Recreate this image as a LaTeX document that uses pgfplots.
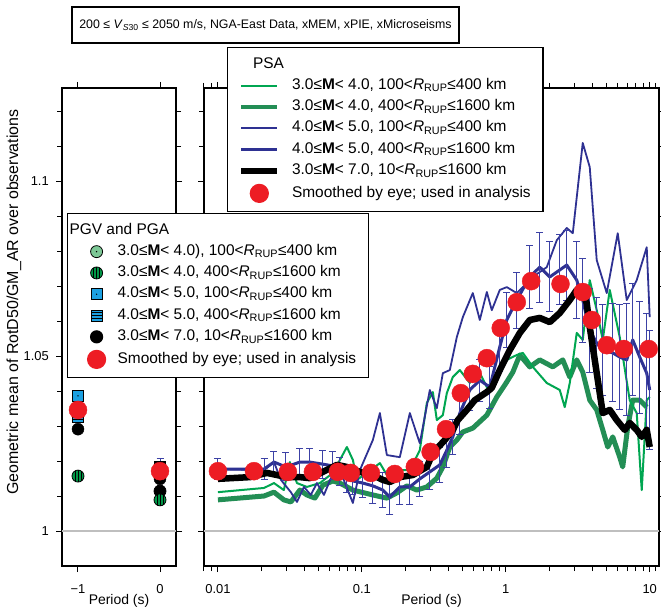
\documentclass[border=0pt]{standalone}
\usepackage{fontspec}
\setmainfont{Liberation Sans}
\usepackage{pgfplots}
\pgfplotsset{compat=1.18}

\definecolor{tgreen}{RGB}{0,166,81}
\definecolor{dgreen}{RGB}{35,142,85}
\definecolor{tblue}{RGB}{46,49,146}
\definecolor{dblue}{RGB}{46,49,146}
\definecolor{eblue}{RGB}{60,65,165}
\definecolor{redd}{RGB}{237,28,36}
\definecolor{lgreen}{RGB}{125,200,150}
\definecolor{sgreen}{RGB}{0,150,70}
\definecolor{sqblue}{RGB}{28,160,225}

% marks of the PGV/PGA panel
\pgfdeclareplotmark{dotcirc}{%
  \pgfpathcircle{\pgfpointorigin}{\pgfplotmarksize}%
  \pgfusepathqfillstroke
  \pgfsetfillcolor{black}%
  \pgfpathcircle{\pgfpointorigin}{0.13\pgfplotmarksize}%
  \pgfusepathqfill}
\pgfdeclareplotmark{vstripcirc}{%
  \pgfpathcircle{\pgfpointorigin}{\pgfplotmarksize}%
  \pgfusepathqfillstroke
  \pgfpathmoveto{\pgfqpoint{-0.5\pgfplotmarksize}{-0.866\pgfplotmarksize}}%
  \pgfpathlineto{\pgfqpoint{-0.5\pgfplotmarksize}{0.866\pgfplotmarksize}}%
  \pgfpathmoveto{\pgfqpoint{0pt}{-\pgfplotmarksize}}%
  \pgfpathlineto{\pgfqpoint{0pt}{\pgfplotmarksize}}%
  \pgfpathmoveto{\pgfqpoint{0.5\pgfplotmarksize}{-0.866\pgfplotmarksize}}%
  \pgfpathlineto{\pgfqpoint{0.5\pgfplotmarksize}{0.866\pgfplotmarksize}}%
  \pgfusepathqstroke}
\pgfdeclareplotmark{dotsq}{%
  \pgfpathrectanglecorners{\pgfqpoint{-\pgfplotmarksize}{-\pgfplotmarksize}}{\pgfqpoint{\pgfplotmarksize}{\pgfplotmarksize}}%
  \pgfusepathqfillstroke
  \pgfsetfillcolor{black}%
  \pgfpathcircle{\pgfpointorigin}{0.14\pgfplotmarksize}%
  \pgfusepathqfill}
\pgfdeclareplotmark{hstripsq}{%
  \pgfpathrectanglecorners{\pgfqpoint{-\pgfplotmarksize}{-\pgfplotmarksize}}{\pgfqpoint{\pgfplotmarksize}{\pgfplotmarksize}}%
  \pgfusepathqfillstroke
  \pgfpathmoveto{\pgfqpoint{-\pgfplotmarksize}{-0.5\pgfplotmarksize}}%
  \pgfpathlineto{\pgfqpoint{\pgfplotmarksize}{-0.5\pgfplotmarksize}}%
  \pgfpathmoveto{\pgfqpoint{-\pgfplotmarksize}{0pt}}%
  \pgfpathlineto{\pgfqpoint{\pgfplotmarksize}{0pt}}%
  \pgfpathmoveto{\pgfqpoint{-\pgfplotmarksize}{0.5\pgfplotmarksize}}%
  \pgfpathlineto{\pgfqpoint{\pgfplotmarksize}{0.5\pgfplotmarksize}}%
  \pgfusepathqstroke}

\newcommand{\R}{\textit{R}\textsubscript{RUP}}
\newcommand{\M}{\textbf{M}}
\newcommand{\LE}[1]{\makebox[240bp][l]{#1}}

\pgfplotsset{
  panel/.style={
    scale only axis, anchor=south west, height=478bp,
    ymin=0.99, ymax=1.1266,
    ytick={1,1.05,1.1},
    minor ytick={1.01,1.02,1.03,1.04,1.06,1.07,1.08,1.09,1.11,1.12},
    axis line style={line width=1.2bp},
    tick style={line width=1bp, black},
    tick align=outside, major tick length=6bp, minor tick length=5bp,
    ticklabel style={font=\fontsize{13}{15}\selectfont},
    xticklabel style={anchor=center, yshift=-17bp},
    yticklabel style={anchor=east, inner sep=0pt, xshift=-7bp},
    x label style={at={(axis description cs:0.5,0)}, anchor=center, yshift=-35bp, font=\fontsize{14}{16}\selectfont},
    legend cell align=left,
  },
  leg/.style={
    anchor=north west, draw=black, line width=1.2bp, fill=white,
    inner xsep=11bp, inner ysep=9bp, row sep=5.8bp, column sep=12bp,
    font=\fontsize{15.5}{19}\selectfont,
    nodes={inner sep=0pt, text height=11.5bp, text depth=4bp},
  },
  longleg/.style={legend image code/.code={\draw[##1] (0bp,0bp) -- (36bp,0bp);}},
  dotleg/.style={legend image code/.code={\draw[mark repeat=2,mark phase=2,##1] plot coordinates {(0bp,0bp) (18bp,0bp) (36bp,0bp)};}},
  ebars/.style={error bars/.cd, y dir=both, y explicit,
    error bar style={line width=1bp, eblue},
    error mark options={rotate=90, line width=1bp, mark size=3.5bp, eblue}},
}

\begin{document}
\begin{tikzpicture}
\path[use as bounding box] (0,0) rectangle (661bp,612bp);
\node[draw, line width=1.2bp, minimum width=387bp, minimum height=36bp, inner sep=0pt,
  font=\fontsize{12.4}{14}\selectfont] at (265.5bp,587bp)
  {200 ≤ \textit{V}\textsubscript{\textit{S}30} ≤ 2050 m/s, NGA-East Data, xMEM, xPIE, xMicroseisms};

% ---------------- PSA panel ----------------
\begin{axis}[panel, at={(204bp,46bp)}, width=455bp,
  xmode=log, xmin=0.008, xmax=11.6,
  xtick={0.01,0.1,1,10}, xticklabels={0.01,0.1,1,10},
  minor xtick={0.008,0.009,0.02,0.03,0.04,0.05,0.06,0.07,0.08,0.09,0.2,0.3,0.4,0.5,0.6,0.7,0.8,0.9,2,3,4,5,6,7,8,9,11},
  yticklabels={,,},
  xlabel={Period (s)},
  legend style={leg, at={(0.0505,1.0858)}},
]
\addlegendimage{empty legend}
\addlegendentry{\hspace*{-48bp}PSA}
\addlegendimage{longleg, tgreen, line width=2bp}
\addlegendentry{\LE{3.0≤\M< 4.0, 100<\R≤400 km}}
\addlegendimage{longleg, dgreen, line width=4.5bp}
\addlegendentry{\LE{3.0≤\M< 4.0, 400<\R≤1600 km}}
\addlegendimage{longleg, tblue, line width=1.8bp}
\addlegendentry{\LE{4.0≤\M< 5.0, 100<\R≤400 km}}
\addlegendimage{longleg, dblue, line width=3.3bp}
\addlegendentry{\LE{4.0≤\M< 5.0, 400<\R≤1600 km}}
\addlegendimage{longleg, black, line width=5.5bp}
\addlegendentry{\LE{3.0≤\M< 7.0, 10<\R≤1600 km}}
\addlegendimage{dotleg, only marks, mark=*, mark size=9bp, mark options={fill=redd, draw=redd}}
\addlegendentry{\LE{Smoothed by eye; used in analysis}}

\addplot[forget plot, black!25, line width=1.5bp] coordinates {(0.008,1) (11.6,1)};

% thick green: 3.0<=M<4.0, 400<R<=1600
\addplot[forget plot, dgreen, line width=5bp, line join=round] table {
0.0100 1.0089
0.0209 1.0100
0.0245 1.0111
0.0287 1.0089
0.0321 1.0083
0.0371 1.0117
0.0415 1.0103
0.0472 1.0094
0.0536 1.0131
0.0629 1.0143
0.0703 1.0137
0.0866 1.0117
0.1192 1.0103
0.1492 1.0094
0.1751 1.0109
0.2054 1.0129
0.2409 1.0117
0.2828 1.0126
0.3318 1.0151
0.3652 1.0183
0.4084 1.0240
0.4567 1.0260
0.5027 1.0283
0.5899 1.0294
0.7383 1.0331
0.8660 1.0383
1.016 1.0426
1.119 1.0454
1.251 1.0503
1.468 1.0469
1.722 1.0489
2.121 1.0469
2.488 1.0489
2.783 1.0440
3.112 1.0489
3.425 1.0454
3.831 1.0374
4.284 1.0346
4.717 1.0289
5.109 1.0240
5.534 1.0269
6.190 1.0211
6.494 1.0183
7.033 1.0297
7.619 1.0374
8.522 1.0374
9.533 1.0354
};

% thin green: 3.0<=M<4.0, 100<R<=400
\addplot[forget plot, tgreen, line width=2bp, line join=round] table {
0.0100 1.0111
0.0209 1.0123
0.0245 1.0137
0.0287 1.0117
0.0316 1.0197
0.0354 1.0137
0.0415 1.0126
0.0511 1.0137
0.0629 1.0166
0.0787 1.0240
0.0866 1.0203
0.0923 1.0146
0.1083 1.0166
0.1334 1.0194
0.1564 1.0146
0.1835 1.0174
0.2154 1.0174
0.2527 1.0231
0.2828 1.0366
0.3112 1.0397
0.3318 1.0317
0.3652 1.0331
0.3893 1.0394
0.4284 1.0440
0.4792 1.0460
0.5623 1.0423
0.6289 1.0469
0.7383 1.0411
0.8660 1.0440
1.016 1.0489
1.192 1.0503
1.313 1.0509
1.540 1.0469
1.926 1.0423
2.371 1.0403
2.568 1.0354
2.783 1.0423
3.112 1.0566
3.425 1.0546
3.831 1.0717
4.284 1.0631
4.717 1.0546
5.275 1.0689
6.190 1.0554
7.263 1.0374
8.122 1.0337
8.801 1.0117
9.533 1.0374
10.0 1.0383
};

% thin blue: 4.0<=M<5.0, 100<R<=400
\addplot[forget plot, tblue, line width=1.8bp, line join=round] table {
0.0100 1.0177
0.0209 1.0174
0.0245 1.0197
0.0274 1.0146
0.0321 1.0111
0.0354 1.0083
0.0396 1.0126
0.0442 1.0103
0.0487 1.0137
0.0545 1.0103
0.0609 1.0151
0.0703 1.0174
0.0866 1.0080
0.0969 1.0174
0.1192 1.0260
0.1334 1.0337
0.1492 1.0217
0.1835 1.0211
0.2154 1.0337
0.2527 1.0251
0.2966 1.0403
0.3318 1.0351
0.3652 1.0451
0.4084 1.0460
0.4567 1.0554
0.5027 1.0611
0.5899 1.0680
0.6598 1.0603
0.7383 1.0683
0.7995 1.0631
0.9085 1.0689
1.016 1.0697
1.192 1.0680
1.540 1.0726
1.926 1.0754
2.261 1.0831
2.652 1.0866
2.920 1.0851
3.425 1.1109
3.831 1.1040
4.284 1.0774
5.027 1.0680
5.995 1.0851
6.923 1.0660
8.122 1.0717
9.533 1.0811
10.0 1.0611
};

% thick blue with error bars: 4.0<=M<5.0, 400<R<=1600
\addplot[forget plot, dblue, line width=3bp, line join=round, ebars]
  table[x index=0, y index=1, y error index=2] {
0.0100 1.0177 0.003
0.0209 1.0177 0.003
0.0245 1.0197 0.003
0.0297 1.0183 0.004
0.0371 1.0197 0.004
0.0435 1.0197 0.004
0.0536 1.0191 0.004
0.0629 1.0186 0.004
0.0703 1.0169 0.004
0.0787 1.0149 0.004
0.0866 1.0143 0.004
0.1016 1.0137 0.004
0.1192 1.0129 0.005
0.1399 1.0117 0.005
0.1564 1.0097 0.005
0.1835 1.0126 0.005
0.2154 1.0126 0.005
0.2527 1.0149 0.005
0.2966 1.0169 0.005
0.3481 1.0189 0.005
0.3893 1.0231 0.005
0.4284 1.0269 0.005
0.4792 1.0337 0.006
0.5623 1.0403 0.006
0.6598 1.0431 0.006
0.7743 1.0411 0.006
0.9085 1.0526 0.007
1.016 1.0603 0.008
1.192 1.0660 0.008
1.468 1.0726 0.009
1.722 1.0754 0.010
2.021 1.0726 0.010
2.371 1.0746 0.010
2.652 1.0760 0.010
3.112 1.0717 0.011
3.425 1.0660 0.012
3.831 1.0574 0.012
4.284 1.0537 0.013
4.717 1.0517 0.013
5.534 1.0509 0.014
6.190 1.0497 0.015
6.923 1.0489 0.016
7.619 1.0546 0.016
8.522 1.0497 0.016
9.533 1.0451 0.017
10.0 1.0403 0.017
};

% black: 3.0<=M<7.0, 10<R<=1600
\addplot[forget plot, black, line width=6.5bp, line join=round] table {
0.0100 1.0149
0.0167 1.0154
0.0219 1.0166
0.0257 1.0160
0.0301 1.0154
0.0371 1.0154
0.0435 1.0151
0.0536 1.0169
0.0671 1.0189
0.0787 1.0183
0.0969 1.0169
0.1192 1.0160
0.1399 1.0146
0.1564 1.0140
0.1835 1.0154
0.2260 1.0160
0.2828 1.0183
0.3112 1.0223
0.3771 1.0260
0.4284 1.0289
0.4642 1.0317
0.5361 1.0346
0.6091 1.0374
0.7383 1.0397
0.7995 1.0409
0.9085 1.0460
1.066 1.0517
1.251 1.0566
1.468 1.0603
1.722 1.0609
2.021 1.0597
2.371 1.0623
2.783 1.0660
3.112 1.0689
3.425 1.0680
3.652 1.0651
3.831 1.0583
4.150 1.0489
4.496 1.0394
4.717 1.0337
5.275 1.0346
5.899 1.0317
6.706 1.0289
7.263 1.0309
8.122 1.0289
8.801 1.0269
9.533 1.0289
10.0 1.0240
};

% smoothed by eye
\addplot[forget plot, only marks, mark=*, mark size=9bp, mark options={fill=redd, draw=redd}] table {
0.0100 1.0171
0.0178 1.0171
0.0306 1.0169
0.0457 1.0169
0.0681 1.0169
0.0837 1.0166
0.1155 1.0166
0.1693 1.0163
0.2334 1.0183
0.3004 1.0226
0.3844 1.0291
0.4871 1.0394
0.5899 1.0449
0.7383 1.0494
0.9220 1.0580
1.192 1.0654
1.500 1.0714
2.400 1.0706
3.425 1.0683
3.960 1.0603
5.030 1.0531
6.600 1.0520
9.840 1.0520
};
\end{axis}

% ---------------- PGV and PGA panel ----------------
\begin{axis}[panel, at={(62bp,46bp)}, width=114bp,
  xmin=-1.195, xmax=0.195,
  xtick={-1,0}, xticklabels={−1,0},
  yticklabels={1,1.05,1.1},
  xlabel={Period (s)},
  ylabel={Geometric mean of RotD50/GM\_AR over observations},
  y label style={at={(axis description cs:-0.421,0.552)}, anchor=center, font=\fontsize{16}{18}\selectfont},
  legend style={leg, at={(0.0439,0.7385)}},
]
\addlegendimage{empty legend}
\addlegendentry{\hspace*{-48bp}PGV and PGA}
\addlegendimage{dotleg, only marks, mark=dotcirc, mark size=6bp, mark options={fill=lgreen, draw=black, line width=0.8bp}}
\addlegendentry{\LE{3.0≤\M< 4.0), 100<\R≤400 km}}
\addlegendimage{dotleg, only marks, mark=vstripcirc, mark size=6bp, mark options={fill=sgreen, draw=black, line width=0.8bp}}
\addlegendentry{\LE{3.0≤\M< 4.0, 400<\R≤1600 km}}
\addlegendimage{dotleg, only marks, mark=dotsq, mark size=5.5bp, mark options={fill=sqblue, draw=black, line width=0.8bp}}
\addlegendentry{\LE{4.0≤\M< 5.0, 100<\R≤400 km}}
\addlegendimage{dotleg, only marks, mark=hstripsq, mark size=5.5bp, mark options={fill=sqblue, draw=black, line width=0.8bp}}
\addlegendentry{\LE{4.0≤\M< 5.0, 400<\R≤1600 km}}
\addlegendimage{dotleg, only marks, mark=*, mark size=6bp, mark options={fill=black, draw=black}}
\addlegendentry{\LE{3.0≤\M< 7.0, 10<\R≤1600 km}}
\addlegendimage{dotleg, only marks, mark=*, mark size=9bp, mark options={fill=redd, draw=redd}}
\addlegendentry{\LE{Smoothed by eye; used in analysis}}

\addplot[forget plot, black!25, line width=1.5bp] coordinates {(-1.195,1) (0.195,1)};
\addplot[forget plot, only marks, mark=dotcirc, mark size=6bp, mark options={fill=lgreen, draw=black, line width=0.8bp}]
  coordinates {(-1,1.0345) (0,1.0114)};
\addplot[forget plot, only marks, mark=vstripcirc, mark size=6bp, mark options={fill=sgreen, draw=black, line width=0.8bp}]
  coordinates {(-1,1.0157) (0,1.0089)};
\addplot[forget plot, only marks, mark=*, mark size=6bp, mark options={fill=black, draw=black}]
  coordinates {(-1,1.0291) (0,1.0149)};
\addplot[forget plot, only marks, mark=hstripsq, mark size=5.5bp, mark options={fill=sqblue, draw=black, line width=0.8bp}]
  coordinates {(-1,1.0326) (0,1.0178)};
\addplot[forget plot, only marks, mark=dotsq, mark size=5.5bp, mark options={fill=sqblue, draw=black, line width=0.8bp}, ebars]
  table[x index=0, y index=1, y error index=2] {
-1 1.0386 0
0 1.0183 0.0023
};
\addplot[forget plot, only marks, mark=*, mark size=9bp, mark options={fill=redd, draw=redd}]
  coordinates {(-1,1.0346) (0,1.0171)};
\end{axis}
\end{tikzpicture}
\end{document}
